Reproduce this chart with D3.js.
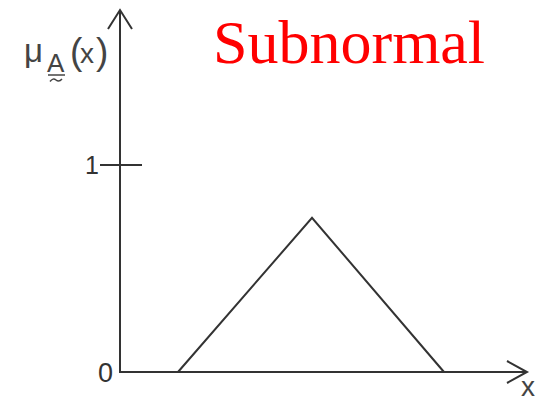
<!DOCTYPE html>
<html>
<head>
<meta charset="utf-8">
<script src="https://cdn.jsdelivr.net/npm/d3@7"></script>
<style>
  body { margin: 0; background: #fff; }
  svg { display: block; }
</style>
</head>
<body>
<div id="chart"></div>
<script>
// Triangular membership function (subnormal: peak height < 1)
const xValues = [1.45, 4.8, 8.1];
const muValues = [0, 0.745, 0];
const yTicks = [0, 1];

const W = 550, H = 400;
const ink = "#333";
const sans = "'Liberation Sans', Arial, sans-serif";

const svg = d3.select("#chart").append("svg")
    .attr("width", W)
    .attr("height", H);

// Scales
const x = d3.scaleLinear().domain([0, 10]).range([120, 520]);
const y = d3.scaleLinear().domain([0, 1]).range([372, 165]);

// y axis with arrow
const yTop = 10;
svg.append("line")
    .attr("x1", x(0)).attr("x2", x(0))
    .attr("y1", y(0)).attr("y2", yTop + 1)
    .attr("stroke", ink).attr("stroke-width", 2);
svg.append("path")
    .attr("d", `M${x(0) - 12},${yTop + 19} L${x(0)},${yTop} L${x(0) + 12},${yTop + 19}`)
    .attr("fill", "none").attr("stroke", ink).attr("stroke-width", 2);

// x axis with arrow
const xEnd = 527;
svg.append("line")
    .attr("x1", x(0) - 1).attr("x2", xEnd - 1)
    .attr("y1", y(0)).attr("y2", y(0))
    .attr("stroke", ink).attr("stroke-width", 2);
svg.append("path")
    .attr("d", `M${xEnd - 20},${y(0) - 11} L${xEnd},${y(0)} L${xEnd - 20},${y(0) + 11}`)
    .attr("fill", "none").attr("stroke", ink).attr("stroke-width", 2);

// tick at 1
svg.append("line")
    .attr("x1", x(0) - 20).attr("x2", x(0) + 22)
    .attr("y1", y(1)).attr("y2", y(1))
    .attr("stroke", ink).attr("stroke-width", 1.8);

// tick labels
svg.selectAll(".tick-label")
    .data(yTicks)
    .enter().append("text")
    .attr("class", "tick-label")
    .attr("x", d => d === 0 ? x(0) - 7 : x(0) - 21)
    .attr("y", d => y(d))
    .attr("dy", "0.36em")
    .attr("text-anchor", "end")
    .style("font-family", sans)
    .style("font-size", d => d === 0 ? "27px" : "25px")
    .style("fill", ink)
    .text(d => d);

// triangle
const pts = xValues.map((v, i) => [x(v), y(muValues[i])]);
svg.append("path")
    .attr("d", d3.line()(pts))
    .attr("fill", "none")
    .attr("stroke", ink)
    .attr("stroke-width", 2)
    .attr("stroke-linejoin", "miter");

// y axis label: mu_A(x) with fuzzy tilde under A
const lab = svg.append("text")
    .style("font-family", sans)
    .style("fill", "#444");
lab.append("tspan").attr("x", 24).attr("y", 62).style("font-size", "33px").text("μ");
lab.append("tspan").attr("x", 47).attr("y", 72).style("font-size", "26px").text("A");
lab.append("tspan").attr("x", 70).attr("y", 64).style("font-size", "37px").text("(");
lab.append("tspan").attr("x", 80).attr("y", 63).style("font-size", "28px").text("x");
lab.append("tspan").attr("x", 96).attr("y", 64).style("font-size", "37px").text(")");
svg.append("line")
    .attr("x1", 48).attr("x2", 65)
    .attr("y1", 75).attr("y2", 75)
    .attr("stroke", "#444").attr("stroke-width", 1.5);
svg.append("path")
    .attr("d", "M50,81.5 Q53,77.5 56,80 T62,79")
    .attr("fill", "none").attr("stroke", "#444").attr("stroke-width", 1.5);

svg.append("text")
    .attr("x", 521).attr("y", 396)
    .style("font-family", sans)
    .style("font-size", "28px")
    .style("fill", "#444")
    .text("x");

// title
svg.append("text")
    .attr("x", 213).attr("y", 63)
    .style("font-family", "'Liberation Serif', 'Times New Roman', serif")
    .style("font-size", "62px")
    .style("fill", "#ff0000")
    .text("Subnormal");
</script>
</body>
</html>
